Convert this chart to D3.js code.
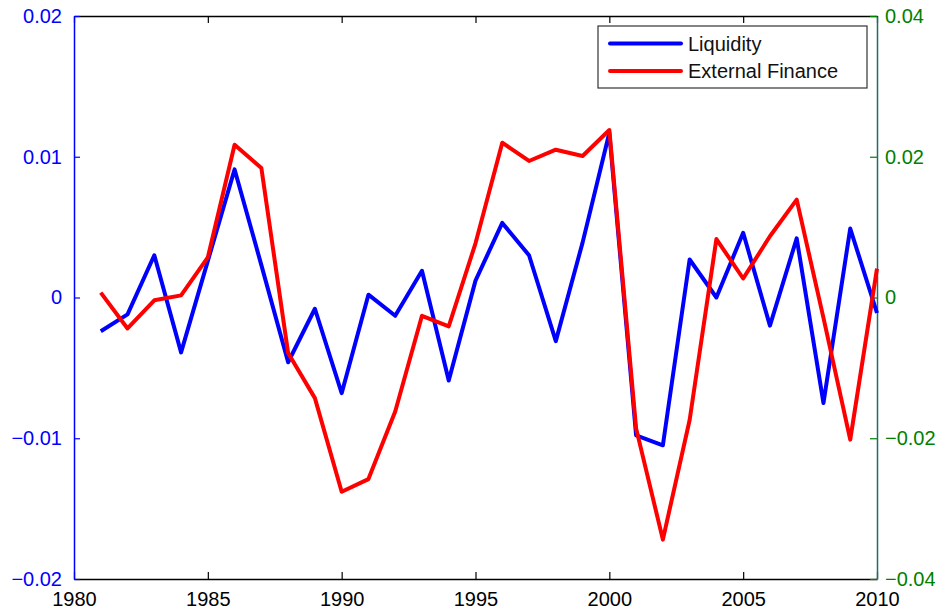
<!DOCTYPE html>
<html>
<head>
<meta charset="utf-8">
<script src="https://cdn.jsdelivr.net/npm/d3@7"></script>
<style>
  body { margin: 0; background: #fff; }
  svg { display: block; font-family: "Liberation Sans", Arial, sans-serif; }
</style>
</head>
<body>
<div class="container"></div>
<script>
var w = 935;
var h = 614;

// data
var years = [1981, 1982, 1983, 1984, 1985, 1986, 1987, 1988, 1989, 1990,
  1991, 1992, 1993, 1994, 1995, 1996, 1997, 1998, 1999, 2000,
  2001, 2002, 2003, 2004, 2005, 2006, 2007, 2008, 2009, 2010];
var liquidity = [-0.0024, -0.0012, 0.0030, -0.0039, 0.0026, 0.0091, 0.0023, -0.0046, -0.0008, -0.0068,
  0.0002, -0.0013, 0.0019, -0.0059, 0.0012, 0.0053, 0.0030, -0.0031, 0.0039, 0.0117,
  -0.0098, -0.0105, 0.0027, 0.0000, 0.0046, -0.0020, 0.0042, -0.0075, 0.0049, -0.0011];
var externalFinance = [0.0007, -0.0044, -0.0004, 0.0003, 0.0057, 0.0217, 0.0184, -0.0079, -0.0143, -0.0276,
  -0.0258, -0.0162, -0.0026, -0.0041, 0.0077, 0.0220, 0.0194, 0.0210, 0.0201, 0.0238,
  -0.0186, -0.0344, -0.0174, 0.0083, 0.0027, 0.0087, 0.0139, -0.0029, -0.0202, 0.0041];
var xTicks = [1980, 1985, 1990, 1995, 2000, 2005, 2010];
var leftTicks = [-0.02, -0.01, 0, 0.01, 0.02];
var rightTicks = [-0.04, -0.02, 0, 0.02, 0.04];
var seriesNames = ["Liquidity", "External Finance"];
var seriesColors = ["#0000ff", "#ff0000"];

var margin = {left: 74, right: 58, top: 16, bottom: 35};
var iw = w - margin.left - margin.right;
var ih = h - margin.top - margin.bottom;

var svg = d3.select(".container").append("svg")
  .attr("width", w)
  .attr("height", h);

var g = svg.append("g").attr("transform", "translate(" + margin.left + "," + margin.top + ")");

var x = d3.scaleLinear().domain([1980, 2010]).range([0, iw]);
var yL = d3.scaleLinear().domain([-0.02, 0.02]).range([ih, 0]);
var yR = d3.scaleLinear().domain([-0.04, 0.04]).range([ih, 0]);

var fmt = function (d) { return d === 0 ? "0" : d3.format("")(+d.toFixed(2)); };

// top axis (ticks only)
var topAx = g.append("g")
  .call(d3.axisTop(x).tickValues(xTicks).tickSizeInner(-7).tickSizeOuter(0).tickFormat(""));
// bottom axis
var botAx = g.append("g")
  .attr("transform", "translate(0," + ih + ")")
  .call(d3.axisBottom(x).tickValues(xTicks).tickSizeInner(-7).tickSizeOuter(0).tickFormat(d3.format("d")));
[topAx, botAx].forEach(function (a) {
  a.select(".domain").attr("stroke", "#000").attr("stroke-width", 1.5);
  a.selectAll(".tick line").attr("stroke", "#000").attr("stroke-width", 1.2);
});
botAx.selectAll(".tick text")
  .attr("y", 13)
  .attr("fill", "#000")
  .style("font-size", "20px")
  .style("font-family", "Liberation Sans, Arial, sans-serif");

// left axis
var leftAx = g.append("g")
  .call(d3.axisLeft(yL).tickValues(leftTicks).tickSizeInner(-6).tickSizeOuter(0).tickFormat(fmt));
leftAx.select(".domain").attr("stroke", "#0000ff").attr("stroke-width", 1.5);
leftAx.selectAll(".tick line").attr("stroke", "#0000ff").attr("stroke-width", 1.2);
leftAx.selectAll(".tick text")
  .attr("x", -12)
  .attr("fill", "#0000ff")
  .style("font-size", "20px")
  .style("font-family", "Liberation Sans, Arial, sans-serif");

// right axis
var rightAx = g.append("g")
  .attr("transform", "translate(" + iw + ",0)")
  .call(d3.axisRight(yR).tickValues(rightTicks).tickSizeInner(-7).tickSizeOuter(0).tickFormat(fmt));
rightAx.select(".domain").attr("stroke", "#1f6b6b").attr("stroke-width", 1.5);
rightAx.selectAll(".tick line").attr("stroke", "#008000").attr("stroke-width", 1.2);
rightAx.selectAll(".tick text")
  .attr("x", 8)
  .attr("fill", "#008000")
  .style("font-size", "20px")
  .style("font-family", "Liberation Sans, Arial, sans-serif");

// lines
var lineL = d3.line().x(function (d, i) { return x(years[i]); }).y(function (d) { return yL(d); });
var lineR = d3.line().x(function (d, i) { return x(years[i]); }).y(function (d) { return yR(d); });

g.append("path")
  .datum(liquidity)
  .attr("d", lineL)
  .attr("fill", "none")
  .attr("stroke", seriesColors[0])
  .attr("stroke-width", 4)
  .attr("stroke-linejoin", "round");

g.append("path")
  .datum(externalFinance)
  .attr("d", lineR)
  .attr("fill", "none")
  .attr("stroke", seriesColors[1])
  .attr("stroke-width", 4)
  .attr("stroke-linejoin", "round");

// legend
var legend = svg.append("g").attr("transform", "translate(598,26)");
legend.append("rect")
  .attr("width", 269)
  .attr("height", 62)
  .attr("fill", "#fff")
  .attr("stroke", "#333")
  .attr("stroke-width", 1.2);

seriesNames.forEach(function (name, i) {
  var yy = 17.5 + i * 27.5;
  legend.append("line")
    .attr("x1", 12).attr("x2", 83)
    .attr("y1", yy).attr("y2", yy)
    .attr("stroke", seriesColors[i])
    .attr("stroke-width", 4)
    .attr("stroke-linecap", "round");
  legend.append("text")
    .attr("x", 90)
    .attr("y", yy)
    .attr("dy", "0.35em")
    .attr("fill", "#111")
    .style("font-size", "20px")
    .text(name);
});
</script>
</body>
</html>
